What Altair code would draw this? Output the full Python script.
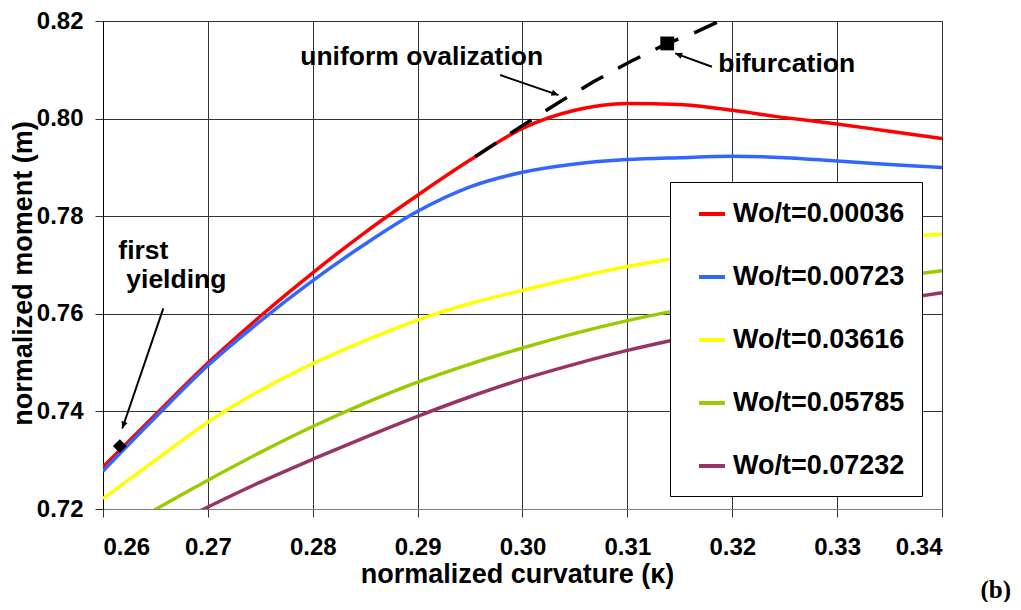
import math
import altair as alt
import pandas as pd

# ---------------- data ----------------
kappa = [0.26, 0.265, 0.27, 0.275, 0.28, 0.285, 0.29, 0.295, 0.30, 0.305,
         0.31, 0.315, 0.32, 0.325, 0.33, 0.335, 0.34]
m_00036 = [0.7286, 0.7393, 0.7499, 0.7595, 0.7684, 0.7767, 0.7843, 0.7915, 0.7980, 0.8017,
           0.8031, 0.8029, 0.8017, 0.8002, 0.7989, 0.7974, 0.7959]
m_00723 = [0.7278, 0.7388, 0.7494, 0.7585, 0.7668, 0.7743, 0.7810, 0.7860, 0.7890, 0.7907,
           0.7916, 0.7920, 0.7923, 0.7920, 0.7913, 0.7906, 0.7900]
m_03616 = [0.7221, 0.7300, 0.7378, 0.7443, 0.7498, 0.7545, 0.7587, 0.7621, 0.7648, 0.7674,
           0.7697, 0.7715, 0.7730, 0.7742, 0.7751, 0.7758, 0.7763]
m_05785 = [0.7136, 0.7199, 0.7259, 0.7316, 0.7369, 0.7417, 0.7460, 0.7497, 0.7530, 0.7560,
           0.7586, 0.7608, 0.7627, 0.7644, 0.7660, 0.7675, 0.7688]
m_07232 = [0.7093, 0.7150, 0.7204, 0.7255, 0.7302, 0.7347, 0.7390, 0.7430, 0.7466, 0.7497,
           0.7525, 0.7549, 0.7570, 0.7590, 0.7609, 0.7627, 0.7643]
series_labels = ["Wo/t=0.00036", "Wo/t=0.00723", "Wo/t=0.03616", "Wo/t=0.05785", "Wo/t=0.07232"]
series_colors = ["#FF0000", "#3366FF", "#FFFF00", "#99CC00", "#993366"]

ovalization_kappa = [0.2955, 0.2998, 0.3033, 0.3068, 0.3103, 0.3138, 0.3163, 0.3200]
ovalization_m = [0.7922, 0.7983, 0.8031, 0.8076, 0.8117, 0.8154, 0.8175, 0.8212]

yield_kappa = [0.2616]
yield_m = [0.7329]
bif_kappa = [0.3138]
bif_m = [0.8154]

arrow_start_kappa = [0.26575, 0.29787, 0.31806]
arrow_start_m = [0.7611, 0.80892, 0.81063]
arrow_end_kappa = [0.26184, 0.30343, 0.31456]
arrow_end_m = [0.7365, 0.80482, 0.81337]

center_notes = ["uniform ovalization", "bifurcation"]
center_notes_kappa = [0.29039, 0.32519]
center_notes_m = [0.81098, 0.80948]
left_notes = ["first", "yielding"]
left_notes_kappa = [0.26146, 0.26222]
left_notes_m = [0.77119, 0.76524]

x_ticks = [0.26, 0.27, 0.28, 0.29, 0.30, 0.31, 0.32, 0.33, 0.34]
y_ticks = [0.72, 0.74, 0.76, 0.78, 0.80, 0.82]
x_domain = [0.26, 0.34]
y_domain = [0.72, 0.82]

# ---------------- layout ----------------
W, H = 839, 488
FONT = "Liberation Sans"

rows = []
for lab, vals in zip(series_labels, [m_00036, m_00723, m_03616, m_05785, m_07232]):
    for k, v in zip(kappa, vals):
        rows.append({"kappa": k, "m": v, "series": lab})
curves = pd.DataFrame(rows)

ov = pd.DataFrame({"kappa": ovalization_kappa, "m": ovalization_m})
markers = pd.DataFrame({"kappa": yield_kappa + bif_kappa, "m": yield_m + bif_m,
                        "shape": ["diamond", "square"]})

sx = W / (x_domain[1] - x_domain[0])
sy = H / (y_domain[1] - y_domain[0])
angles = []
for a, b, c, d in zip(arrow_start_kappa, arrow_start_m, arrow_end_kappa, arrow_end_m):
    ang = math.degrees(math.atan2((c - a) * sx, (d - b) * sy)) % 360
    angles.append(ang)
arrows = pd.DataFrame({"kappa": arrow_start_kappa, "m": arrow_start_m,
                       "kappa2": arrow_end_kappa, "m2": arrow_end_m})
heads = pd.DataFrame({"kappa": arrow_end_kappa, "m": arrow_end_m, "angle": angles})

cnotes = pd.DataFrame({"kappa": center_notes_kappa, "m": center_notes_m, "t": center_notes})
lnotes = pd.DataFrame({"kappa": left_notes_kappa, "m": left_notes_m, "t": left_notes})

x_enc = alt.X("kappa:Q", scale=alt.Scale(domain=x_domain, nice=False, zero=False),
              axis=alt.Axis(values=x_ticks, format=".2f", title="normalized curvature (κ)",
                            titleX=414, titleY=73, titleBaseline="alphabetic",
                            labelPadding=18, tickSize=8, domainColor="#808080"))
y_enc = alt.Y("m:Q", scale=alt.Scale(domain=y_domain, nice=False, zero=False),
              axis=alt.Axis(values=y_ticks, format=".2f", title="normalized moment (m)",
                            titleX=-72, titleY=252, titleBaseline="alphabetic",
                            labelPadding=12, tickSize=8, domainColor="#000000"))

lines = alt.Chart(curves).mark_line(clip=True, strokeWidth=3.5, interpolate="monotone").encode(
    x=x_enc, y=y_enc,
    color=alt.Color("series:N", scale=alt.Scale(domain=series_labels, range=series_colors),
                    legend=alt.Legend(title=None, orient="none", legendX=567, legendY=161,
                                      symbolType="stroke", symbolSize=676, symbolStrokeWidth=4,
                                      symbolOffset=10,
                                      labelFont=FONT, labelFontSize=27, labelFontWeight="bold",
                                      labelColor="#000000", labelOffset=6, rowPadding=35,
                                      labelLimit=400, labelExpr="datum.label + '\u00a0'",
                                      padding=17, fillColor="#FFFFFF", strokeColor="#000000",
                                      cornerRadius=0)),
    order=alt.Order("kappa:Q"),
)

dashed = alt.Chart(ov).mark_line(color="#000000", strokeWidth=3.5, strokeDash=[25, 17],
                                 strokeCap="butt").encode(x=x_enc, y=y_enc, order=alt.Order("kappa:Q"))

marks = alt.Chart(markers).mark_point(filled=True, color="#000000", size=190, opacity=1).encode(
    x=x_enc, y=y_enc,
    shape=alt.Shape("shape:N", scale=alt.Scale(domain=["diamond", "square"], range=["diamond", "square"]),
                    legend=None),
)

arrow_lines = alt.Chart(arrows).mark_rule(color="#000000", strokeWidth=2).encode(
    x=x_enc, y=y_enc, x2="kappa2:Q", y2="m2:Q")
arrow_heads = alt.Chart(heads).mark_point(filled=True, color="#000000", opacity=1, size=160,
                                          shape="M0,0L-0.5,1.1L0.5,1.1Z").encode(
    x=x_enc, y=y_enc, angle=alt.Angle("angle:Q", scale=None))

cnote_layer = alt.Chart(cnotes).mark_text(font=FONT, fontSize=26.5, fontWeight="bold", align="center",
                                          baseline="alphabetic", color="#000000").encode(
    x=x_enc, y=y_enc, text="t:N")
lnote_layer = alt.Chart(lnotes).mark_text(font=FONT, fontSize=26.5, fontWeight="bold", align="left",
                                          baseline="alphabetic", color="#000000").encode(
    x=x_enc, y=y_enc, text="t:N")

tag = alt.Chart(pd.DataFrame({"t": ["(b)"]})).mark_text(
    font="Liberation Serif", fontSize=25, fontWeight="bold", align="right", baseline="alphabetic",
    color="#000000").encode(x=alt.value(W + 69), y=alt.value(H + 89), text="t:N")

chart = alt.layer(lines, dashed, arrow_lines, arrow_heads, marks, cnote_layer, lnote_layer, tag).properties(
    width=W, height=H,
    autosize=alt.AutoSizeParams(type="none"),
    padding={"left": 95, "top": 13, "right": 70, "bottom": 93},
    background="#FFFFFF",
).configure_view(stroke="#808080", strokeWidth=1).configure_axis(
    labelFont=FONT, labelFontSize=24, labelFontWeight="bold", labelColor="#000000",
    titleFont=FONT, titleFontSize=27, titleFontWeight="bold", titleColor="#000000",
    gridColor="#333333", gridWidth=1, gridOpacity=1, tickColor="#333333", tickWidth=1,
    domainWidth=1,
)

chart.save("out.html", embed_options={"renderer": "svg", "actions": False})
